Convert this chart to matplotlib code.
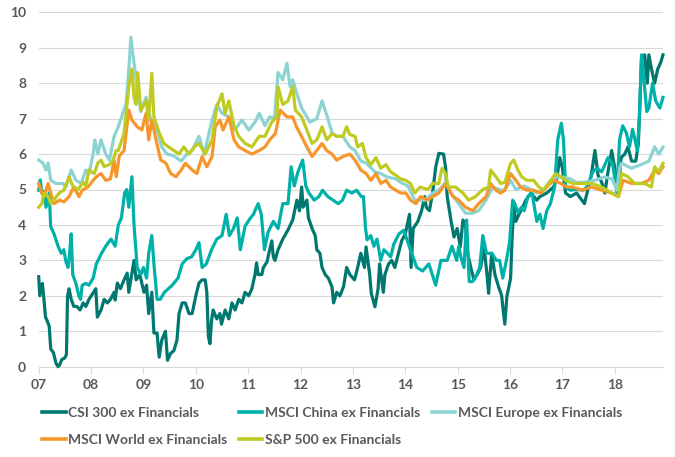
import numpy as np
import matplotlib.pyplot as plt
from matplotlib.lines import Line2D

plt.rcParams['font.family'] = ['Lato', 'DejaVu Sans']

# x values are years since the start of 2007
start_year = 2007
tick_years = list(range(2007, 2019))
tick_labels = ['07', '08', '09', '10', '11', '12', '13', '14', '15', '16', '17', '18']

names = ['CSI 300 ex Financials', 'MSCI China ex Financials', 'MSCI Europe ex Financials',
         'MSCI World ex Financials', 'S&P 500 ex Financials']
colors = ['#00786F', '#00B1AA', '#8DD3D2', '#F7962B', '#BFCA22']

csi_t = [0.00, 0.02, 0.07, 0.10, 0.13, 0.16, 0.20, 0.23, 0.28, 0.33, 0.37, 0.40, 0.44, 0.50, 0.53,
         0.55, 0.58, 0.62, 0.67, 0.73, 0.79, 0.85, 0.90, 0.96, 1.09, 1.12, 1.19, 1.25, 1.31, 1.37,
         1.44, 1.46, 1.50, 1.56, 1.63, 1.69, 1.72, 1.77, 1.82, 1.86, 1.93, 2.01, 2.06, 2.10, 2.16,
         2.20, 2.26, 2.30, 2.35, 2.42, 2.46, 2.52, 2.58, 2.64, 2.68, 2.74, 2.80, 2.87, 2.93, 3.00,
         3.06, 3.12, 3.18, 3.21, 3.24, 3.27, 3.30, 3.33, 3.40, 3.46, 3.49, 3.56, 3.63, 3.69, 3.75,
         3.82, 3.88, 3.94, 4.01, 4.07, 4.13, 4.16, 4.19, 4.26, 4.29, 4.36, 4.41, 4.45, 4.48, 4.51,
         4.57, 4.66, 4.76, 4.85, 4.93, 4.98, 5.02, 5.05, 5.12, 5.15, 5.22, 5.28, 5.31, 5.37, 5.41,
         5.47, 5.53, 5.60, 5.63, 5.69, 5.75, 5.82, 5.88, 5.94, 6.03, 6.09, 6.15, 6.22, 6.25, 6.32,
         6.35, 6.42, 6.48, 6.51, 6.58, 6.61, 6.68, 6.74, 6.80, 6.87, 6.93, 7.00, 7.05, 7.08, 7.11,
         7.15, 7.24, 7.31, 7.37, 7.40, 7.46, 7.52, 7.58, 7.64, 7.73, 7.77, 7.80, 7.87, 7.93, 7.99,
         8.05, 8.10, 8.15, 8.19, 8.25, 8.31, 8.37, 8.44, 8.50, 8.56, 8.59, 8.65, 8.71, 8.78, 8.84,
         8.86, 8.90, 8.94, 8.97, 9.01, 9.04, 9.07, 9.11, 9.17, 9.24, 9.30, 9.40, 9.51, 9.57, 9.70,
         9.83, 9.89, 9.95, 10.00, 10.06, 10.15, 10.27, 10.37, 10.42, 10.55, 10.62, 10.68, 10.75, 10.81,
         10.87, 10.94, 11.00, 11.06, 11.12, 11.19, 11.25, 11.32, 11.40, 11.45, 11.51, 11.57, 11.62,
         11.65, 11.70, 11.76, 11.82, 11.88, 11.92]
csi_v = [2.54, 2.0, 2.35, 1.9, 1.4, 1.3, 1.15, 0.5, 0.4, 0.1, 0.0, 0.05, 0.2, 0.25, 0.35,
         1.98, 2.2, 1.9, 1.7, 1.7, 1.6, 1.8, 1.7, 1.9, 2.2, 1.4, 1.6, 1.9, 1.8, 1.9,
         2.1, 1.88, 2.36, 2.2, 2.45, 2.64, 2.1, 2.55, 3.0, 2.45, 2.6, 2.1, 2.3, 1.5, 2.1,
         0.95, 0.95, 0.27, 0.75, 1.0, 0.18, 0.38, 0.45, 0.75, 1.5, 1.8, 1.8, 1.5, 1.5, 2.0,
         2.36, 2.45, 2.45, 2.1, 0.85, 0.65, 1.3, 1.6, 1.35, 1.5, 1.2, 1.6, 1.35, 1.8, 1.6,
         1.9, 1.8, 2.1, 2.0, 2.2, 2.6, 2.93, 2.6, 2.6, 2.8, 2.96, 3.3, 3.55, 3.1, 3.0,
         3.3, 3.6, 3.86, 4.14, 4.7, 4.4, 5.07, 4.5, 4.7, 4.2, 3.9, 3.7, 3.3, 3.2, 2.8,
         2.6, 2.5, 2.25, 1.8, 2.1, 2.0, 2.26, 2.8, 2.6, 2.45, 2.8, 3.2, 2.8, 3.38, 2.6,
         2.07, 1.69, 2.2, 2.9, 2.1, 2.6, 2.9, 3.0, 2.8, 3.2, 3.55, 3.75, 4.1, 4.3, 2.8,
         3.9, 4.1, 4.4, 4.8, 4.5, 4.4, 4.9, 5.63, 6.02, 6.0, 5.6, 4.8, 4.14, 3.66, 3.9,
         3.38, 4.14, 4.0, 3.2, 2.8, 2.45, 2.6, 2.8, 3.4, 2.6, 2.07, 3.2, 2.6, 2.26, 2.0,
         1.7, 1.2, 2.0, 2.2, 2.5, 3.66, 4.5, 4.1, 4.3, 4.5, 4.7, 4.9, 4.7, 4.8, 4.9,
         5.07, 5.3, 5.9, 5.6, 4.9, 4.8, 4.9, 4.7, 4.6, 5.4, 6.1, 5.4, 5.2, 4.9,
         5.5, 6.1, 5.6, 4.9, 5.9, 6.0, 6.2, 5.8, 5.8, 6.3, 8.7, 8.8, 8.0,
         8.8, 8.4, 8.0, 8.4, 8.6, 8.8]

china_t = [0.00, 0.03, 0.06, 0.10, 0.14, 0.20, 0.23, 0.29, 0.37, 0.43, 0.48, 0.52, 0.56, 0.59, 0.62,
           0.65, 0.71, 0.77, 0.80, 0.83, 0.90, 0.96, 1.04, 1.10, 1.20, 1.28, 1.38, 1.46, 1.52, 1.58,
           1.64, 1.68, 1.72, 1.78, 1.82, 1.88, 1.95, 2.00, 2.06, 2.10, 2.16, 2.20, 2.26, 2.32, 2.40,
           2.55, 2.66, 2.74, 2.83, 2.92, 3.00, 3.06, 3.12, 3.20, 3.30, 3.40, 3.50, 3.58, 3.64, 3.72,
           3.79, 3.85, 3.94, 4.02, 4.10, 4.19, 4.25, 4.31, 4.38, 4.48, 4.57, 4.66, 4.76, 4.82, 4.88,
           4.95, 5.04, 5.10, 5.16, 5.26, 5.35, 5.42, 5.52, 5.62, 5.72, 5.80, 5.88, 5.98, 6.07, 6.16,
           6.20, 6.24, 6.27, 6.34, 6.40, 6.46, 6.53, 6.59, 6.66, 6.72, 6.78, 6.88, 6.97, 7.05, 7.12,
           7.22, 7.33, 7.45, 7.58, 7.68, 7.80, 7.89, 7.98, 8.02, 8.06, 8.12, 8.17, 8.22, 8.28, 8.35,
           8.42, 8.48, 8.55, 8.65, 8.74, 8.80, 8.86, 8.93, 8.99, 9.03, 9.05, 9.09, 9.15, 9.22, 9.27,
           9.34, 9.42, 9.51, 9.57, 9.63, 9.70, 9.77, 9.85, 9.91, 9.98, 10.02, 10.06, 10.15, 10.27, 10.40,
           10.48, 10.58, 10.66, 10.75, 10.87, 10.96, 11.04, 11.09, 11.15, 11.22, 11.28, 11.34, 11.43,
           11.47, 11.51, 11.55, 11.61, 11.65, 11.72, 11.78, 11.86, 11.92]
china_v = [4.98, 5.27, 4.9, 4.95, 4.5, 4.9, 3.95, 3.76, 3.4, 3.2, 3.3, 2.96, 2.8, 3.2, 3.75,
           2.6, 2.35, 1.98, 1.9, 2.3, 2.35, 2.3, 2.5, 2.9, 3.2, 3.4, 3.6, 3.4, 4.0, 4.2,
           4.9, 5.0, 4.5, 5.36, 4.0, 2.8, 2.6, 2.8, 2.5, 3.2, 3.7, 2.9, 1.9, 1.9, 2.1,
           2.3, 2.5, 2.9, 3.05, 3.1, 3.3, 3.5, 2.8, 2.9, 3.3, 3.6, 3.7, 4.3, 3.7, 3.9,
           4.2, 3.3, 3.96, 4.15, 4.3, 4.6, 4.3, 3.3, 3.8, 4.1, 3.9, 4.6, 4.6, 5.64, 5.1,
           5.5, 5.83, 5.1, 4.9, 4.7, 4.8, 4.98, 4.8, 4.7, 4.6, 4.7, 4.98, 4.9, 4.98, 4.8,
           4.8, 3.9, 3.58, 3.7, 3.4, 3.6, 3.0, 3.3, 3.2, 3.1, 3.46, 3.75, 3.85, 3.5, 3.2,
           2.8, 2.7, 2.9, 2.3, 3.0, 3.0, 3.4, 3.0, 3.4, 3.1, 2.8, 4.14, 2.4, 2.4, 2.55,
           2.8, 3.7, 3.2, 3.2, 3.0, 3.0, 2.5, 3.0, 3.5, 4.3, 4.7, 4.6, 4.35, 4.5, 4.4,
           4.8, 4.9, 4.1, 4.3, 3.9, 4.4, 4.6, 5.07, 6.4, 6.87, 6.4, 5.07, 4.98, 5.0, 4.98,
           5.1, 5.5, 5.6, 5.5, 5.9, 5.7, 4.9, 6.4, 6.8, 6.6, 6.2, 6.7, 6.1,
           7.05, 8.8, 8.2, 7.2, 7.3, 8.0, 7.5, 7.3, 7.6]

europe_t = [0.00, 0.08, 0.14, 0.18, 0.23, 0.33, 0.46, 0.52, 0.62, 0.71, 0.81, 0.90, 0.96, 1.04, 1.07,
            1.13, 1.19, 1.28, 1.35, 1.44, 1.52, 1.67, 1.72, 1.76, 1.80, 1.88, 1.95, 2.05, 2.14, 2.26,
            2.35, 2.45, 2.58, 2.72, 2.83, 2.93, 3.06, 3.16, 3.31, 3.40, 3.50, 3.63, 3.75, 3.88, 4.01,
            4.13, 4.21, 4.32, 4.41, 4.50, 4.57, 4.66, 4.74, 4.80, 4.85, 4.93, 5.02, 5.18, 5.31, 5.41,
            5.50, 5.60, 5.69, 5.81, 5.94, 6.04, 6.15, 6.25, 6.42, 6.53, 6.66, 6.82, 6.91, 7.05, 7.18,
            7.29, 7.39, 7.52, 7.64, 7.77, 7.87, 8.02, 8.15, 8.28, 8.40, 8.54, 8.67, 8.82, 8.90, 9.01,
            9.11, 9.26, 9.40, 9.51, 9.64, 9.78, 9.91, 10.02, 10.15, 10.27, 10.40, 10.62, 10.80, 10.95,
            11.04, 11.09, 11.13, 11.32, 11.50, 11.65, 11.76, 11.84, 11.92]
europe_v = [5.83, 5.75, 5.55, 5.75, 5.26, 5.17, 5.17, 5.07, 5.55, 5.26, 5.17, 5.55, 5.45, 6.0, 6.4,
            6.0, 6.4, 6.0, 5.83, 6.5, 6.77, 7.43, 8.37, 9.3, 8.8, 7.9, 7.2, 7.6, 6.96, 6.68,
            6.2, 6.0, 5.95, 5.8, 6.0, 6.1, 6.5, 6.0, 6.96, 7.4, 7.15, 7.05, 6.68, 6.96, 6.68,
            6.9, 7.15, 6.8, 7.05, 7.0, 8.3, 8.1, 8.56, 7.9, 8.1, 7.7, 7.3, 6.9, 7.0, 7.5,
            7.1, 6.6, 6.5, 6.5, 6.2, 6.1, 5.8, 5.75, 5.5, 5.45, 5.35, 5.3, 5.2, 5.1, 4.7,
            4.7, 4.7, 4.9, 4.98, 5.2, 4.9, 4.6, 4.33, 4.33, 4.4, 4.7, 5.07, 4.98, 4.98, 5.26,
            5.0, 5.1, 5.0, 4.9, 5.0, 5.26, 5.35, 5.35, 5.3, 5.2, 5.2, 5.26, 5.35, 5.3,
            4.98, 5.6, 5.74, 5.6, 5.7, 5.8, 6.2, 6.0, 6.2]

world_t = [0.00, 0.06, 0.10, 0.18, 0.23, 0.29, 0.40, 0.48, 0.58, 0.67, 0.77, 0.83, 0.94, 1.04, 1.10,
           1.19, 1.28, 1.37, 1.44, 1.48, 1.54, 1.63, 1.72, 1.78, 1.88, 1.97, 2.05, 2.10, 2.16, 2.24,
           2.33, 2.43, 2.52, 2.62, 2.72, 2.80, 2.87, 2.93, 3.02, 3.12, 3.21, 3.31, 3.37, 3.46, 3.52,
           3.63, 3.73, 3.82, 3.94, 4.07, 4.21, 4.32, 4.41, 4.52, 4.61, 4.74, 4.85, 4.92, 5.02, 5.12,
           5.22, 5.31, 5.41, 5.50, 5.60, 5.69, 5.81, 5.94, 6.04, 6.15, 6.25, 6.34, 6.44, 6.53, 6.63,
           6.72, 6.82, 6.91, 7.01, 7.10, 7.20, 7.29, 7.43, 7.52, 7.64, 7.77, 7.91, 8.02, 8.15, 8.29,
           8.40, 8.54, 8.63, 8.73, 8.82, 8.90, 9.01, 9.11, 9.20, 9.32, 9.45, 9.59, 9.70, 9.83, 9.97,
           10.08, 10.20, 10.37, 10.56, 10.75, 10.94, 11.07, 11.16, 11.32, 11.51, 11.65, 11.76, 11.84, 11.92]
world_v = [5.17, 4.9, 4.8, 5.17, 4.9, 4.6, 4.7, 4.65, 4.8, 5.07, 4.8, 4.98, 5.07, 5.26, 5.36,
           5.45, 5.26, 5.3, 5.83, 5.36, 5.95, 6.1, 7.24, 6.96, 6.77, 6.68, 7.15, 6.4, 6.96, 6.4,
           5.83, 5.74, 5.45, 5.36, 5.55, 5.74, 5.64, 5.55, 5.45, 5.93, 5.64, 5.93, 6.77, 6.96, 6.68,
           7.05, 6.4, 6.2, 6.1, 6.0, 6.1, 6.2, 6.4, 6.58, 7.24, 7.05, 7.05, 6.77, 6.5, 6.2,
           5.93, 6.1, 6.3, 6.1, 6.0, 5.83, 5.93, 6.0, 5.83, 5.55, 5.45, 5.26, 5.45, 5.17, 5.26,
           5.07, 4.98, 4.9, 4.9, 4.7, 4.6, 4.8, 4.7, 4.8, 4.9, 5.17, 4.8, 4.7, 4.5, 4.4,
           4.6, 4.8, 5.17, 4.98, 4.9, 4.98, 5.45, 5.26, 5.07, 4.98, 4.98, 4.9, 5.07, 5.26, 5.17,
           5.07, 5.07, 4.98, 5.07, 4.98, 4.9, 4.8, 5.26, 5.17, 5.17, 5.26, 5.55, 5.45, 5.64]

sp_t = [0.00, 0.06, 0.10, 0.18, 0.23, 0.29, 0.39, 0.48, 0.58, 0.65, 0.75, 0.85, 0.90, 0.96, 1.06,
        1.13, 1.19, 1.25, 1.35, 1.42, 1.48, 1.52, 1.63, 1.72, 1.78, 1.82, 1.86, 1.89, 1.95, 2.05,
        2.10, 2.16, 2.20, 2.30, 2.39, 2.48, 2.58, 2.68, 2.77, 2.87, 2.97, 3.06, 3.18, 3.31, 3.40,
        3.50, 3.56, 3.63, 3.73, 3.82, 3.94, 4.07, 4.21, 4.32, 4.45, 4.55, 4.57, 4.66, 4.76, 4.85,
        4.90, 5.02, 5.12, 5.22, 5.31, 5.41, 5.50, 5.60, 5.69, 5.81, 5.88, 5.94, 6.04, 6.09, 6.18,
        6.25, 6.34, 6.44, 6.53, 6.63, 6.72, 6.82, 6.91, 7.01, 7.10, 7.18, 7.28, 7.43, 7.52, 7.64,
        7.70, 7.77, 7.82, 7.96, 8.10, 8.21, 8.34, 8.48, 8.59, 8.63, 8.73, 8.82, 8.90, 9.01, 9.07,
        9.15, 9.22, 9.32, 9.45, 9.55, 9.64, 9.78, 9.87, 9.97, 10.06, 10.20, 10.37, 10.56, 10.75,
        10.94, 11.07, 11.13, 11.25, 11.38, 11.57, 11.70, 11.76, 11.84, 11.92]
sp_v = [4.5, 4.6, 4.9, 4.8, 4.6, 4.7, 4.9, 4.98, 5.36, 5.1, 5.0, 5.2, 5.1, 5.55, 5.45,
        5.75, 5.83, 5.65, 5.7, 5.83, 6.1, 6.1, 6.58, 7.9, 8.4, 7.6, 7.4, 8.3, 7.24, 7.5,
        6.96, 8.28, 7.05, 6.6, 6.3, 6.2, 6.1, 6.0, 6.2, 6.0, 6.2, 6.3, 6.0, 6.4, 7.33,
        7.7, 7.15, 7.5, 6.8, 6.5, 6.3, 6.2, 6.5, 6.5, 6.9, 7.05, 7.9, 7.4, 7.5, 7.9,
        7.24, 7.05, 6.68, 6.3, 6.4, 6.77, 6.4, 6.58, 6.5, 6.5, 6.77, 6.55, 6.5, 6.2, 6.3,
        5.9, 5.7, 5.9, 5.6, 5.7, 5.5, 5.4, 5.3, 5.26, 5.17, 4.9, 5.07, 5.0, 5.17, 5.17,
        5.6, 5.45, 5.07, 5.07, 4.9, 4.7, 4.8, 5.0, 5.07, 5.55, 5.36, 5.17, 5.2, 5.74, 5.83,
        5.55, 5.36, 5.26, 5.26, 5.07, 4.98, 5.26, 5.45, 5.36, 5.26, 5.17, 5.17, 5.17, 5.07,
        4.9, 4.8, 5.45, 5.36, 5.17, 5.17, 5.07, 5.64, 5.5, 5.74]

series_t = [csi_t, china_t, europe_t, world_t, sp_t]
series_v = [csi_v, china_v, europe_v, world_v, sp_v]

fig = plt.figure(figsize=(6.75, 4.57), dpi=100)
ax = fig.add_axes([38.7 / 675, 1 - 366.7 / 457, (663 - 38.7) / 675, (366.7 - 12.3) / 457])

for t, v, c in zip(series_t, series_v, colors):
    ax.plot(start_year + np.array(t), v, color=c, linewidth=2.3, clip_on=False, zorder=3)

ax.set_ylim(0, 10)
ax.set_yticks(range(0, 11))
ax.set_xlim(start_year, start_year + 11.92)
ax.set_xticks(tick_years)
ax.set_xticklabels(tick_labels)
ax.grid(axis='y', color='#D9D9D9', linewidth=0.8)
ax.set_axisbelow(True)
for s in ['top', 'right', 'left']:
    ax.spines[s].set_visible(False)
ax.spines['bottom'].set_color('#D9D9D9')
ax.spines['bottom'].set_linewidth(0.8)
ax.tick_params(axis='x', length=5, width=0.8, color='#D9D9D9', labelcolor='#595959',
               labelsize=10, pad=4)
ax.tick_params(axis='y', length=0, labelcolor='#595959', labelsize=10, pad=9)
for lab in ax.get_xticklabels() + ax.get_yticklabels():
    lab.set_fontweight('bold')

# legend is filled column by column, so reorder to get Excel's row-wise layout
order = [0, 3, 1, 4, 2]
handles = [Line2D([], [], color=colors[i], linewidth=2.6) for i in order]
labels = [names[i] for i in order]
leg = fig.legend(handles, labels, ncol=3, loc='upper left', bbox_to_anchor=(42 / 675, 1 - 407 / 457),
                 frameon=False, fontsize=10, handlelength=1.7, handletextpad=0.2,
                 columnspacing=0.8, labelspacing=1.1, borderpad=0, borderaxespad=0)
for txt in leg.get_texts():
    txt.set_color('#595959')
    txt.set_fontweight('bold')

plt.savefig('out.png', dpi=100)
